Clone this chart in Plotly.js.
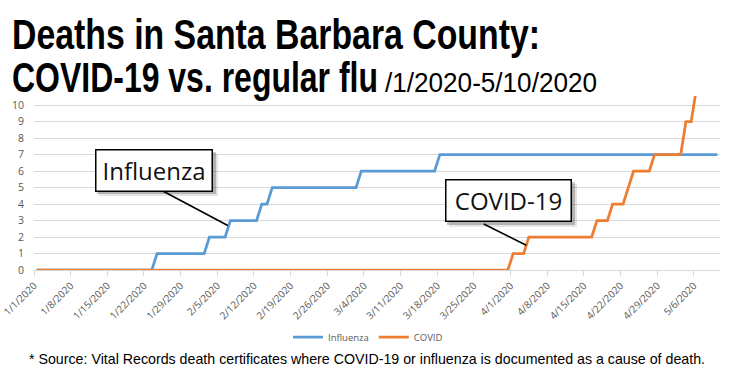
<!DOCTYPE html>
<html>
<head>
<meta charset="utf-8">
<script src="https://cdn.plot.ly/plotly-3.0.1.min.js"></script>
<style>html,body{margin:0;padding:0;background:#fff;}#chart{width:732px;height:382px;}</style>
</head>
<body>
<div id="chart"></div>
<script>
// ---- data (corner points of the cumulative step lines) ----
var fluDates = ['2020-01-01','2020-01-23','2020-01-24','2020-02-02','2020-02-03','2020-02-06','2020-02-07','2020-02-12','2020-02-13','2020-02-14','2020-02-15','2020-03-02','2020-03-03','2020-03-17','2020-03-18','2020-05-10'];
var fluValues = [0,0,1,1,2,2,3,3,4,4,5,5,6,6,7,7];

var covidDates = ['2020-01-01','2020-03-31','2020-04-01','2020-04-03','2020-04-04','2020-04-16','2020-04-17','2020-04-19','2020-04-20','2020-04-22','2020-04-23','2020-04-24','2020-04-27','2020-04-28','2020-05-03','2020-05-04','2020-05-05','2020-05-06','2020-05-10'];
var covidValues = [0,0,1,1,2,2,3,3,4,4,5,6,6,7,7,9,9,11,11];

var tickLabels = ['1/1/2020','1/8/2020','1/15/2020','1/22/2020','1/29/2020','2/5/2020','2/12/2020','2/19/2020','2/26/2020','3/4/2020','3/11/2020','3/18/2020','3/25/2020','4/1/2020','4/8/2020','4/15/2020','4/22/2020','4/29/2020','5/6/2020'];

var seriesNames = ['Influenza','COVID'];
var calloutTexts = ['Influenza','COVID-19'];
var titleLine1 = 'Deaths in Santa Barbara County:';
var titleLine2 = 'COVID-19 vs. regular flu';
var titleRange = '/1/2020-5/10/2020';
var footnote = '* Source: Vital Records death certificates where COVID-19 or influenza is documented as a cause of death.';

// Excel-style date axis: each day is a bucket, ticks sit at the bucket boundary (half a day before)
function pad(n){return (n<10?'0':'')+n;}
var tickVals = tickLabels.map(function(s){
  var p = s.split('/');
  var d = new Date(Date.UTC(+p[2], +p[0]-1, +p[1]) - 12*3600*1000);
  return d.getUTCFullYear()+'-'+pad(d.getUTCMonth()+1)+'-'+pad(d.getUTCDate())+' '+pad(d.getUTCHours())+':00';
});

var BLUE = '#5b9bd5', ORANGE = '#ed7d31', GRAY = '#595959', GRID = '#d9d9d9';
var SANS = '"Liberation Sans", Arial, sans-serif';

var traces = [
  {x: fluDates, y: fluValues, name: seriesNames[0], type: 'scatter', mode: 'lines',
   line: {color: BLUE, width: 2.75}},
  {x: covidDates, y: covidValues, name: seriesNames[1], type: 'scatter', mode: 'lines',
   line: {color: ORANGE, width: 2.75}}
];

// plot area in pixels: x 34..720, y 96..270
function px2x(px){ return (px-34)/686; }
function px2y(py){ return (270-py)/174; }

function callout(text, cx, cy, w) {
  return {xref: 'paper', yref: 'paper', x: px2x(cx), y: px2y(cy), xanchor: 'center', yanchor: 'middle',
    showarrow: false, width: w, height: 34, borderpad: 3, borderwidth: 1.5,
    text: text, font: {family: 'Open Sans', size: 24, color: '#111'},
    bgcolor: '#ffffff', bordercolor: '#000000'};
}
function shadow(x0, y0, x1, y1, off, color) {
  return {type: 'rect', xref: 'paper', yref: 'paper', layer: 'above',
    x0: px2x(x0+off), x1: px2x(x1+off), y0: px2y(y1+off), y1: px2y(y0+off),
    fillcolor: color, line: {width: 0}};
}

var shapes = [
  shadow(94, 149, 213, 191, 5, 'rgba(0,0,0,0.10)'),
  shadow(94, 149, 213, 191, 3, 'rgba(0,0,0,0.22)'),
  shadow(444, 179, 572, 222, 5, 'rgba(0,0,0,0.10)'),
  shadow(444, 179, 572, 222, 3, 'rgba(0,0,0,0.22)')
];

var annotations = [];
// pointer lines
annotations.push({xref: 'x', yref: 'y', x: '2020-02-06 12:00', y: 2.7, text: '', showarrow: true,
  arrowhead: 0, arrowwidth: 1.6, arrowcolor: '#000', ax: -66, ay: -35, standoff: 0});
annotations.push({xref: 'x', yref: 'y', x: '2020-04-03 12:00', y: 1.5, text: '', showarrow: true,
  arrowhead: 0, arrowwidth: 1.6, arrowcolor: '#000', ax: -44, ay: -22, standoff: 0});
annotations.push(callout(calloutTexts[0], 153.5, 170, 109));
annotations.push(callout(calloutTexts[1], 508, 200.5, 118));

// titles
annotations.push({xref: 'paper', yref: 'paper', x: px2x(10), y: px2y(34), xanchor: 'left', yanchor: 'middle', align: 'left',
  showarrow: false, text: '<b>'+titleLine1+'</b>', font: {family: SANS, size: 43, color: '#000'}});
annotations.push({xref: 'paper', yref: 'paper', x: px2x(10), y: px2y(77), xanchor: 'left', yanchor: 'middle', align: 'left',
  showarrow: false, text: '<b>'+titleLine2+'</b>', font: {family: SANS, size: 43, color: '#000'}});
annotations.push({xref: 'paper', yref: 'paper', x: px2x(383), y: px2y(82), xanchor: 'left', yanchor: 'middle', align: 'left',
  showarrow: false, text: titleRange, font: {family: SANS, size: 28, color: '#000'}});
// footnote
annotations.push({xref: 'paper', yref: 'paper', x: px2x(27), y: px2y(359), xanchor: 'left', yanchor: 'middle', align: 'left',
  showarrow: false, text: footnote, font: {family: SANS, size: 14.5, color: '#000'}});

var layout = {
  width: 732, height: 382,
  margin: {l: 34, r: 12, t: 96, b: 112, pad: 0},
  paper_bgcolor: '#fff', plot_bgcolor: '#fff',
  showlegend: true,
  legend: {orientation: 'h', x: px2x(368), xanchor: 'center', xref: 'paper', y: px2y(337), yanchor: 'middle',
    font: {family: 'Open Sans', size: 9.5, color: GRAY}, itemwidth: 30, tracegroupgap: 0},
  xaxis: {type: 'date', range: ['2019-12-31 12:00', '2020-05-10 12:00'],
    tickmode: 'array', tickvals: tickVals, ticktext: tickLabels, tickangle: -45,
    tickfont: {family: 'Open Sans', size: 10, color: GRAY},
    ticks: 'outside', ticklen: 5, tickcolor: GRID, tickwidth: 1,
    showline: true, linecolor: GRID, linewidth: 1, showgrid: false, zeroline: false, fixedrange: true},
  yaxis: {range: [0, 10.55], tick0: 0, dtick: 1, showgrid: true, gridcolor: GRID, gridwidth: 1,
    zeroline: false, showline: false, ticks: '', ticklabelstandoff: 9,
    tickfont: {family: 'Open Sans', size: 10.5, color: GRAY}, fixedrange: true},
  shapes: shapes,
  annotations: annotations
};

// target rendered widths of the condensed newspaper-style texts (px)
var squeeze = {};
squeeze[titleLine1] = 528;
squeeze[titleLine2] = 366;
squeeze[titleRange] = 212;
squeeze[footnote] = 676;

Plotly.newPlot('chart', traces, layout, {staticPlot: true, displayModeBar: false}).then(function(gd){
  var texts = gd.querySelectorAll('.annotation-text');
  for (var i = 0; i < texts.length; i++) {
    var t = texts[i];
    var w = squeeze[t.textContent];
    if (!w) continue;
    t.setAttribute('textLength', w);
    t.setAttribute('lengthAdjust', 'spacingAndGlyphs');
    var tsp = t.querySelectorAll('tspan');
    for (var j = 0; j < tsp.length; j++) {
      tsp[j].setAttribute('textLength', w);
      tsp[j].setAttribute('lengthAdjust', 'spacingAndGlyphs');
    }
    // shrink the invisible background box to the condensed text
    var bg = t.parentNode.querySelector('rect.bg');
    if (bg) {
      var h = parseFloat(bg.getAttribute('height'));
      var y = parseFloat(bg.getAttribute('y') || 0);
      bg.setAttribute('width', w + 2);
      bg.setAttribute('y', y + h * 0.12);
      bg.setAttribute('height', h * 0.8);
    }
  }
});
</script>
</body>
</html>
